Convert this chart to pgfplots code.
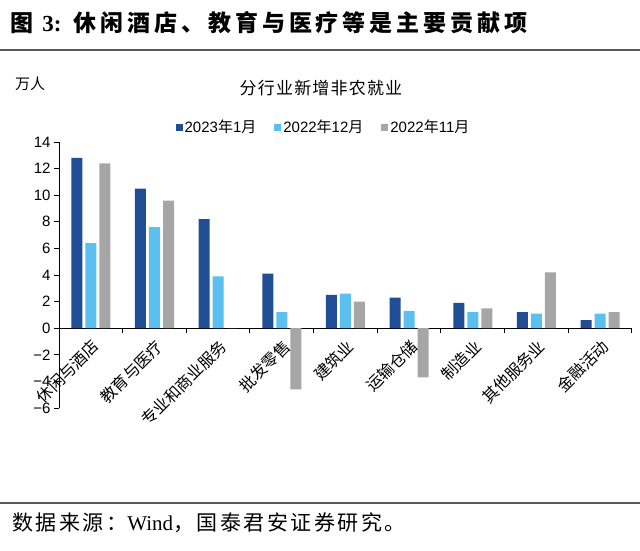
\documentclass[border=0pt]{standalone}
\usepackage{pgfplots}
\pgfplotsset{compat=1.18}
\usepackage{fontspec}
\setmainfont{Liberation Sans}
\newfontfamily\serif{Liberation Serif}
\newfontfamily\cjk{Noto Sans CJK SC}
\newfontfamily\cjkhead[LetterSpace=17]{Noto Sans CJK SC}
\newfontfamily\cjksrc[LetterSpace=12]{Noto Sans CJK SC}
\newfontfamily\cjktitle[LetterSpace=7]{Noto Sans CJK SC}

\definecolor{c1}{HTML}{1F4E94}
\definecolor{c2}{HTML}{5BBFF0}
\definecolor{c3}{HTML}{A6A6A6}

\begin{document}
\begin{tikzpicture}[x=1pt,y=1pt]
\path[use as bounding box] (0,0) rectangle (640,550);

% header and footer
\node[anchor=west, inner sep=0, font=\cjkhead\bfseries\fontsize{23}{25}\selectfont] at (10,527)
  {图 {\serif\bfseries 3:} 休闲酒店、教育与医疗等是主要贡献项};
\draw[line width=1.5pt, black!65] (0,500) -- (640,500);
\draw[line width=1.5pt, black!65] (0,47) -- (640,47);
\node[anchor=west, inner sep=0, font=\cjksrc\fontsize{21}{23}\selectfont] at (12,27)
  {数据来源：{\serif Wind}，国泰君安证券研究。};

\node[anchor=west, inner sep=0, font=\cjk\fontsize{15}{17}\selectfont] at (15,466) {万人};
\node[inner sep=0, font=\cjktitle\fontsize{17}{19}\selectfont] at (321,462) {分行业新增非农就业};

\begin{axis}[
    at={(59pt,142pt)}, anchor=south west,
    width=573pt, height=266pt, scale only axis,
    ybar=3pt, bar width=11pt,
    xmin=-0.5, xmax=8.5, ymin=-6, ymax=14,
    axis y line=left, axis x line=middle,
    axis line style={-, line width=1pt, black},
    xtick align=outside, ytick align=outside,
    major tick length=5pt, minor tick length=5pt,
    ytick={-6,-4,...,14},
    yticklabels={−6,−4,−2,0,2,4,6,8,10,12,14},
    yticklabel style={font=\fontsize{15}{17}\selectfont},
    xtick={0,...,8},
    xticklabels={休闲与酒店,教育与医疗,专业和商业服务,批发零售,建筑业,运输仓储,制造业,其他服务业,金融活动},
    major x tick style={draw=none},
    minor xtick={-0.5,0.5,...,8.5},
    minor x tick style={black, line width=1pt},
    y tick style={black, line width=1pt},
    xticklabel style={font=\cjk\fontsize{16}{18}\selectfont, rotate=45, anchor=north east},
    legend columns=3,
    legend style={draw=none, at={(0.4616,1.056)}, anchor=center,
        font=\fontsize{15}{17}\selectfont,
        /tikz/every even column/.append style={column sep=16pt}},
    legend image code/.code={\fill[#1] (0pt,-3.5pt) rectangle (7pt,3.5pt);},
]
\addplot[fill=c1, draw=none] coordinates {(0,12.8) (1,10.5) (2,8.2) (3,4.1) (4,2.5) (5,2.3) (6,1.9) (7,1.2) (8,0.6)};
\addlegendentry{2023{\cjk 年}1{\cjk 月}}
\addplot[fill=c2, draw=none] coordinates {(0,6.4) (1,7.6) (2,3.9) (3,1.2) (4,2.6) (5,1.3) (6,1.2) (7,1.1) (8,1.1)};
\addlegendentry{2022{\cjk 年}12{\cjk 月}}
\addplot[fill=c3, draw=none] coordinates {(0,12.4) (1,9.6) (2,0) (3,-4.6) (4,2.0) (5,-3.7) (6,1.5) (7,4.2) (8,1.2)};
\addlegendentry{2022{\cjk 年}11{\cjk 月}}
\end{axis}
\end{tikzpicture}
\end{document}
